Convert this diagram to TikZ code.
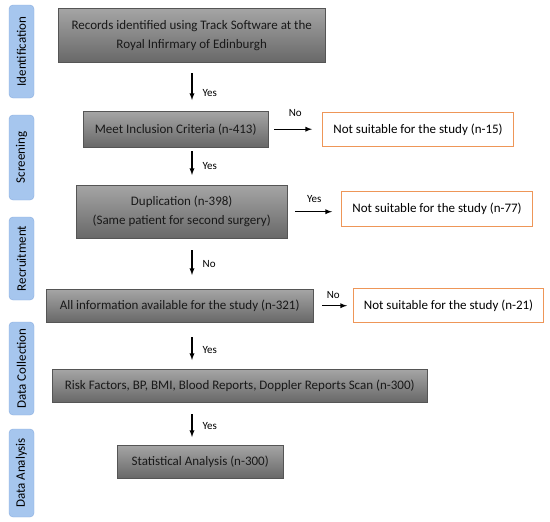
\documentclass[tikz,border=0pt]{standalone}
\usepackage{fontspec}
\setmainfont{Carlito}
\usepackage{xcolor}
\usepackage{tikz}
\definecolor{boxtop}{RGB}{165,165,165}
\definecolor{boxbot}{RGB}{104,104,104}
\definecolor{boxline}{RGB}{85,85,85}
\definecolor{sidefill}{RGB}{166,198,238}
\definecolor{sideline}{RGB}{138,174,224}
\definecolor{orangeline}{RGB}{238,150,88}
\begin{document}
\begin{tikzpicture}[>=latex,x=1pt,y=-1pt,
	greybox/.style={draw=boxline,top color=boxtop,bottom color=boxbot,text=black!90,align=center,inner sep=0pt,anchor=north west,font=\fontsize{13}{19}\selectfont},
	nobox/.style={draw=orangeline,line width=1.1pt,fill=white,inner sep=0pt,anchor=north west,font=\fontsize{13}{19}\selectfont},
	side/.style={draw=sideline,fill=sidefill,rounded corners=4pt,rotate=90,inner sep=0pt,minimum height=25pt,font=\fontsize{13}{16}\selectfont},
	arr/.style={->,line width=1.3pt},
	lab/.style={font=\fontsize{11}{13}\selectfont,inner sep=2pt}]
			\useasboundingbox (0,0) rectangle (550,522);
			%侧边标签
			\node[side,minimum width=93pt] (ident) at (21.5,51.5) {Identification};
			\node[side,minimum width=85pt] (screen) at (21.5,157.5) {Screening};
			\node[side,minimum width=83pt] (recruit) at (21.5,258.5) {Recruitment};
			\node[side,minimum width=93pt] (collect) at (21.5,368.5) {Data Collection};
			\node[side,minimum width=88pt] (analysis) at (21.5,473) {Data Analysis};
			%流程框
			\node[greybox,minimum width=267pt,minimum height=54pt] (rec) at (58,8) {Records identified using Track Software at the\\Royal Infirmary of Edinburgh};
			\node[greybox,minimum width=185pt,minimum height=36pt] (meet) at (83,111) {Meet Inclusion Criteria (n-413)};
			\node[greybox,minimum width=211pt,minimum height=53pt] (dup) at (76,185) {Duplication (n-398)\\(Same patient for second surgery)};
			\node[greybox,minimum width=267pt,minimum height=33pt] (info) at (46,289) {All information available for the study (n-321)};
			\node[greybox,minimum width=375pt,minimum height=33pt] (risk) at (52,369) {Risk Factors, BP, BMI, Blood Reports, Doppler Reports Scan (n-300)};
			\node[greybox,minimum width=166pt,minimum height=33pt] (stat) at (117,445) {Statistical Analysis (n-300)};
			%排除框
			\node[nobox,minimum width=191pt,minimum height=34pt] (out15) at (322,112) {Not suitable for the study (n-15)};
			\node[nobox,minimum width=191pt,minimum height=35pt] (out77) at (341,191) {Not suitable for the study (n-77)};
			\node[nobox,minimum width=190pt,minimum height=34pt] (out21) at (353,288) {Not suitable for the study (n-21)};
			%箭头
			\coordinate (axis) at (192,0);
			\draw[arr,shorten <=11pt,shorten >=11pt] (rec.south -| axis) -- (meet.north -| axis) node[lab,pos=0.62,right=8pt]{Yes};
			\draw[arr,shorten <=4pt,shorten >=10pt] (meet.south -| axis) -- (dup.north -| axis) node[lab,pos=0.5,right=8pt]{Yes};
			\draw[arr,shorten <=12pt,shorten >=14pt] (dup.south -| axis) -- (info.north -| axis) node[lab,pos=0.5,right=8pt]{No};
			\draw[arr,shorten <=15pt,shorten >=9pt] (info.south -| axis) -- (risk.north -| axis) node[lab,pos=0.6,right=8pt]{Yes};
			\draw[arr,shorten <=12pt,shorten >=8pt] (risk.south -| axis) -- (stat.north -| axis) node[lab,pos=0.55,right=8pt]{Yes};
			\draw[arr,shorten <=6pt,shorten >=10pt] (meet.east) -- (meet.east -| out15.west) node[lab,midway,above=10pt]{No};
			\draw[arr,shorten <=8pt,shorten >=9pt] (dup.east) -- (dup.east -| out77.west) node[lab,midway,above=6pt]{Yes};
			\draw[arr,shorten <=9pt,shorten >=6pt] (info.east) -- (info.east -| out21.west) node[lab,midway,above=4pt]{No};
		\end{tikzpicture}
\end{document}
